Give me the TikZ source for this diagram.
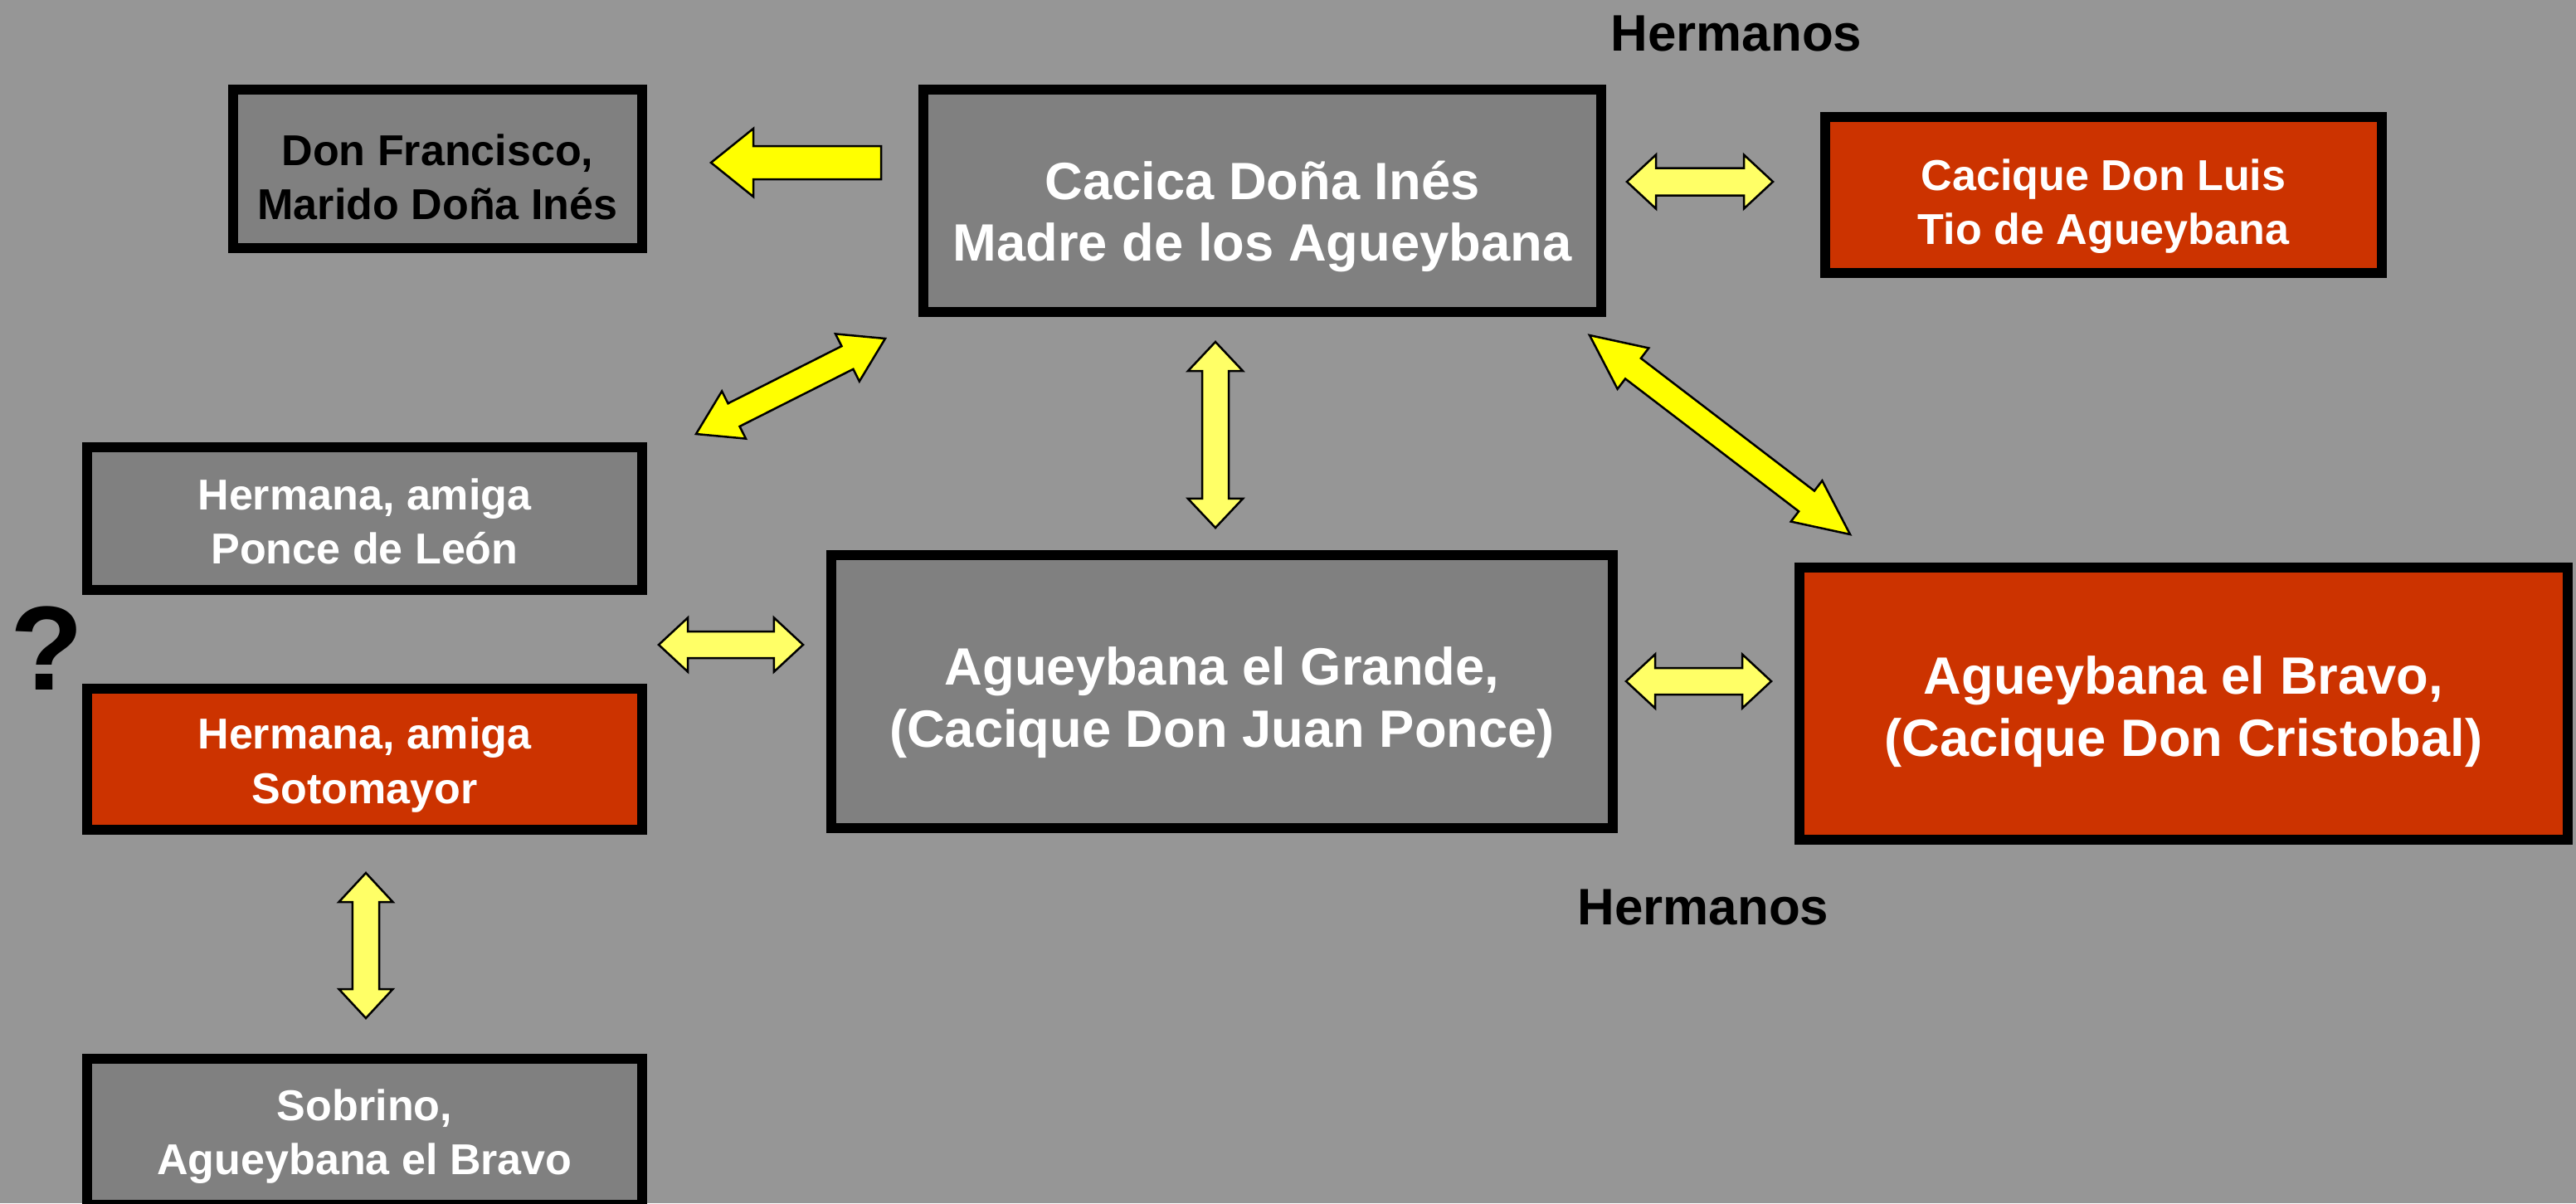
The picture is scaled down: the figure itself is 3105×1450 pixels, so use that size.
\documentclass[tikz,border=0pt]{standalone}
\usepackage{fontspec}
\setmainfont{Liberation Sans}
\usetikzlibrary{calc}
\definecolor{bg}{RGB}{150,150,150}
\definecolor{boxgray}{RGB}{128,128,128}
\definecolor{boxred}{RGB}{204,51,0}
\definecolor{yel}{RGB}{255,255,0}
\definecolor{ltyel}{RGB}{255,255,102}
\newcommand\dblarr[6]{%
 \draw[arrowline, fill=#6] (#1) -- ($(#1)!#5!(#2)!#4!90:(#2)$) -- ($(#1)!#5!(#2)!#3!90:(#2)$)
  -- ($(#2)!#5!(#1)!#3!-90:(#1)$) -- ($(#2)!#5!(#1)!#4!-90:(#1)$) -- (#2)
  -- ($(#2)!#5!(#1)!#4!90:(#1)$) -- ($(#2)!#5!(#1)!#3!90:(#1)$)
  -- ($(#1)!#5!(#2)!#3!-90:(#2)$) -- ($(#1)!#5!(#2)!#4!-90:(#2)$) -- cycle;}
\newcommand\sglarr[6]{%
 \draw[arrowline, fill=#6] ($(#1)!#3!90:(#2)$) -- ($(#2)!#5!(#1)!#3!-90:(#1)$)
  -- ($(#2)!#5!(#1)!#4!-90:(#1)$) -- (#2) -- ($(#2)!#5!(#1)!#4!90:(#1)$)
  -- ($(#2)!#5!(#1)!#3!90:(#1)$) -- ($(#1)!#3!-90:(#2)$) -- cycle;}
\begin{document}
\begin{tikzpicture}[x=0.01cm, y=-0.01cm,
  arrowline/.style={draw=black, line width=0.025cm, line join=miter},
  box/.style={draw=black, line width=0.12cm, inner sep=0pt},
  smalltxt/.style={font=\fontsize{14.8pt}{18.5pt}\selectfont\bfseries, align=center, inner sep=0pt},
  bigtxt/.style={font=\fontsize{18pt}{21.3pt}\selectfont\bfseries, align=center, inner sep=0pt},
  lbl/.style={font=\fontsize{17.6pt}{21pt}\selectfont\bfseries, text=black, inner sep=0pt}]
\useasboundingbox (0,0) rectangle (3105,1450);
\fill[bg] (0,0) rectangle (3105,1450);

\node[box, fill=boxgray, minimum width=4.93cm, minimum height=1.91cm] (donf) at (527.5,203.5) {};
\node[box, fill=boxgray, minimum width=8.17cm, minimum height=2.68cm] (madre) at (1521.5,242) {};
\node[box, fill=boxred, minimum width=6.71cm, minimum height=1.88cm] (luis) at (2535.5,235) {};
\node[box, fill=boxgray, minimum width=6.69cm, minimum height=1.72cm] (ponce) at (439.5,625) {};
\node[box, fill=boxred, minimum width=6.69cm, minimum height=1.70cm] (soto) at (439.5,915) {};
\node[box, fill=boxgray, minimum width=6.69cm, minimum height=1.76cm] (sobrino) at (439.5,1364) {};
\node[box, fill=boxgray, minimum width=9.42cm, minimum height=3.29cm] (grande) at (1473,833.5) {};
\node[box, fill=boxred, minimum width=9.26cm, minimum height=3.28cm] (bravo) at (2632,848) {};

\node[smalltxt, text=black] (donf-t) at ([yshift=-0.10cm]donf.center) {Don Francisco,\\Marido Doña Inés};
\node[bigtxt, text=white] (madre-t) at ([yshift=-0.19cm]madre.center) {Cacica Doña Inés\\Madre de los Agueybana};
\node[smalltxt, text=white] (luis-t) at ([yshift=-0.14cm]luis.center) {Cacique Don Luis\\Tio de Agueybana};
\node[smalltxt, text=white] (ponce-t) at ([yshift=-0.03cm]ponce.center) {Hermana, amiga\\Ponce de León};
\node[smalltxt, text=white] (soto-t) at ([yshift=-0.07cm]soto.center) {Hermana, amiga\\Sotomayor};
\node[smalltxt, text=white] (sobrino-t) at ([yshift=-0.06cm]sobrino.center) {Sobrino,\\Agueybana el Bravo};
\node[bigtxt, text=white] (grande-t) at ([yshift=-0.13cm]grande.center) {Agueybana el Grande,\\(Cacique Don Juan Ponce)};
\node[bigtxt, text=white] (bravo-t) at ([yshift=-0.10cm]bravo.center) {Agueybana el Bravo,\\(Cacique Don Cristobal)};

\node[lbl] (herm1) at (2093,40) {Hermanos};
\node[lbl] (herm2) at (2053,1093) {Hermanos};
\node[font=\fontsize{41pt}{45pt}\selectfont\bfseries, inner sep=0pt] (q) at (57,781) {?};

\coordinate (a1s) at (1062,196);
\coordinate (a1e) at (857,196);
\coordinate (a2s) at (1961,219);
\coordinate (a2e) at (2137,219);
\coordinate (a3s) at (839,523);
\coordinate (a3e) at (1067,408);
\coordinate (a4s) at (1465,412);
\coordinate (a4e) at (1465,636);
\coordinate (a5s) at (1916,404);
\coordinate (a5e) at (2230,644);
\coordinate (a6s) at (794,777);
\coordinate (a6e) at (968,777);
\coordinate (a7s) at (1960,821);
\coordinate (a7e) at (2135,821);
\coordinate (a8s) at (441,1052);
\coordinate (a8e) at (441,1227);

\sglarr{a1s}{a1e}{0.20cm}{0.41cm}{0.51cm}{yel}
\dblarr{a2s}{a2e}{0.165cm}{0.325cm}{0.35cm}{ltyel}
\dblarr{a3s}{a3e}{0.155cm}{0.32cm}{0.51cm}{yel}
\dblarr{a4s}{a4e}{0.16cm}{0.33cm}{0.35cm}{ltyel}
\dblarr{a5s}{a5e}{0.155cm}{0.31cm}{0.66cm}{yel}
\dblarr{a6s}{a6e}{0.16cm}{0.325cm}{0.35cm}{ltyel}
\dblarr{a7s}{a7e}{0.16cm}{0.325cm}{0.35cm}{ltyel}
\dblarr{a8s}{a8e}{0.16cm}{0.325cm}{0.35cm}{ltyel}
\end{tikzpicture}
\end{document}
